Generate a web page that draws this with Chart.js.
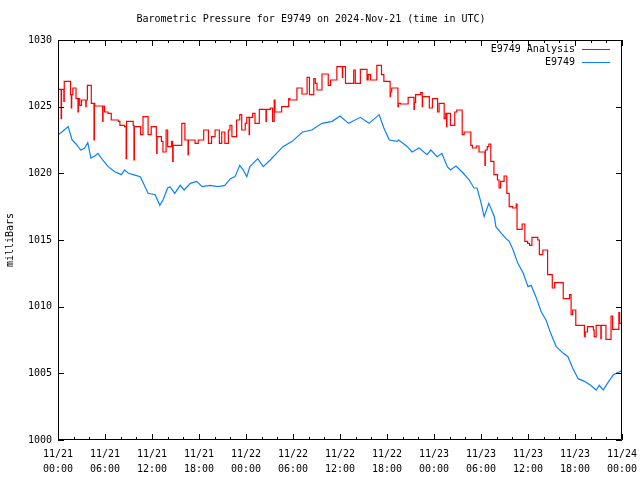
<!DOCTYPE html>
<html>
<head>
<meta charset="utf-8">
<script src="https://cdn.jsdelivr.net/npm/chart.js@4/dist/chart.umd.min.js"></script>
<style>
  html, body { margin: 0; padding: 0; background: #fff; }
  #wrap { width: 640px; height: 480px; }
</style>
</head>
<body>
<div id="wrap"><canvas id="pressure_graph" width="640" height="480"></canvas></div>
<script>
// hours since 11/21 00:00 UTC
const hourTicks = [0, 6, 12, 18, 24, 30, 36, 42, 48, 54, 60, 66, 72];
const dayLabels = ['11/21', '11/21', '11/21', '11/21', '11/22', '11/22', '11/22', '11/22', '11/23', '11/23', '11/23', '11/23', '11/24'];
const timeLabels = ['00:00', '06:00', '12:00', '18:00', '00:00', '06:00', '12:00', '18:00', '00:00', '06:00', '12:00', '18:00', '00:00'];
const pressureTicks = [1000, 1005, 1010, 1015, 1020, 1025, 1030];

// E9749 Analysis (stepped, with short dips)
const analysisHours = [
  0, 0.4, 0.45, 0.75, 0.8, 1.6, 1.7, 1.75, 1.9, 2.3, 2.55, 2.6, 2.77, 3.0, 3.55, 3.6, 3.75, 4.25, 4.6, 4.65,
  4.7, 5.7, 5.75, 5.95, 6.4, 6.8, 7.7, 7.9, 8.5, 8.7, 8.75, 9.6, 9.7, 9.75, 10.55, 10.85, 11.5, 11.9, 12.55, 12.6,
  12.65, 13.2, 13.4, 13.8, 14.0, 14.5, 14.64, 14.7, 15.8, 16.2, 16.6, 16.65, 17.5, 17.9, 18.6, 19.2, 19.6, 20.05, 20.6, 20.9,
  21.3, 21.75, 21.95, 22.2, 22.8, 23.2, 23.45, 23.9, 24.1, 24.4, 24.45, 24.85, 25.15, 25.7, 26.55, 26.6, 27.1, 27.4, 27.6, 27.7,
  28.55, 29.45, 29.6, 30.5, 31.15, 31.8, 32.1, 32.65, 32.85, 33.07, 33.7, 34.5, 34.8, 35.6, 36.3, 36.35, 36.7, 37.75, 37.95, 38.6,
  39.45, 39.6, 39.9, 40.7, 41.3, 41.6, 42.4, 42.45, 42.6, 43.4, 43.45, 43.75, 44.7, 45.45, 45.5, 45.65, 46.3, 46.5, 46.55, 47.4,
  47.8, 48.45, 48.65, 49.3, 49.5, 49.6, 49.65, 50.1, 50.65, 50.9, 51.6, 51.85, 52.7, 52.9, 53.4, 53.75, 54.5, 54.55, 54.8, 55.0,
  55.25, 55.65, 56.1, 56.3, 56.5, 56.95, 57.3, 57.6, 58.05, 58.5, 58.6, 59.25, 59.6, 59.95, 60.2, 60.5, 61.25, 61.45, 61.9, 62.5,
  63.1, 63.4, 64.5, 65.3, 65.5, 65.7, 66.1, 67.2, 67.3, 67.6, 68.35, 68.45, 68.7, 69.3, 69.35, 69.95, 70.6, 70.8, 71.6, 71.7,
  72
];
const analysisValues = [
  1026.3, 1024.1, 1026.3, 1025.4, 1026.9, 1025.9, 1024.9, 1025.9, 1026.4, 1025.6, 1024.6, 1025.6, 1025.1, 1025.5, 1025.0, 1025.5, 1026.6, 1025.25, 1022.5, 1025.25,
  1025.05, 1023.9, 1025.05, 1024.6, 1024.5, 1024.0, 1023.9, 1023.6, 1023.5, 1021.1, 1023.9, 1023.6, 1021.0, 1023.5, 1022.9, 1024.25, 1022.9, 1023.5, 1022.75, 1021.5,
  1022.75, 1022.4, 1021.6, 1023.25, 1022.0, 1022.4, 1020.9, 1022.1, 1023.75, 1022.5, 1021.4, 1022.5, 1022.25, 1022.5, 1023.25, 1022.25, 1022.75, 1023.25, 1022.25, 1023.1,
  1022.25, 1023.25, 1023.6, 1022.75, 1024.0, 1024.4, 1023.25, 1023.75, 1024.2, 1022.9, 1024.2, 1024.5, 1023.75, 1024.8, 1023.9, 1024.8, 1024.9, 1023.9, 1025.5, 1024.6,
  1025.0, 1025.6, 1025.5, 1026.4, 1025.95, 1027.2, 1025.9, 1027.1, 1026.75, 1026.25, 1027.45, 1026.6, 1027.0, 1028.0, 1027.2, 1028.0, 1026.75, 1027.75, 1026.75, 1027.8,
  1027.0, 1027.4, 1027.0, 1028.1, 1027.4, 1026.9, 1025.75, 1026.1, 1026.4, 1025.0, 1025.25, 1025.2, 1025.7, 1024.8, 1025.3, 1025.9, 1026.05, 1025.0, 1025.75, 1024.9,
  1025.6, 1024.6, 1025.25, 1024.1, 1024.5, 1023.5, 1024.5, 1023.6, 1024.6, 1024.75, 1022.9, 1023.1, 1022.1, 1021.9, 1022.05, 1021.6, 1020.6, 1021.75, 1022.0, 1022.2,
  1020.9, 1019.9, 1019.5, 1018.9, 1019.4, 1019.8, 1018.5, 1017.5, 1017.4, 1017.7, 1015.8, 1016.2, 1014.9, 1014.75, 1014.6, 1015.2, 1015.0, 1013.9, 1014.25, 1012.4,
  1011.4, 1011.8, 1010.6, 1010.9, 1009.4, 1009.75, 1008.6, 1007.75, 1008.1, 1008.5, 1008.25, 1007.75, 1008.6, 1007.6, 1008.6, 1007.55, 1009.3, 1008.3, 1009.55, 1008.75,
  1008.75
];

// E9749 observed
const stationHours = [
  0, 0.5, 1.3, 1.8, 2.3, 2.9, 3.4, 3.8, 4.2, 4.7, 5.1, 5.7, 6.4, 7.3, 8.1, 8.5, 9.0, 9.6, 10.5, 10.9,
  11.5, 12.4, 13.0, 13.4, 14.0, 14.3, 14.9, 15.6, 16.1, 16.9, 17.7, 18.4, 19.4, 20.4, 21.3, 22.0, 22.6, 23.2, 23.6, 24.1,
  24.5, 25.5, 26.2, 27.1, 27.9, 28.7, 29.9, 31.2, 32.4, 33.7, 35.0, 36.0, 37.1, 38.6, 39.7, 41.0, 41.6, 42.3, 43.3, 43.5,
  44.6, 45.2, 46.1, 47.1, 47.6, 48.4, 49.0, 49.7, 50.1, 50.8, 51.6, 52.5, 53.1, 53.5, 54.0, 54.4, 55.0, 55.7, 55.9, 56.6,
  57.2, 57.6, 58.1, 58.7, 59.4, 60.0, 60.4, 61.0, 61.7, 62.3, 62.9, 63.6, 64.5, 65.1, 65.7, 66.4, 67.2, 68.0, 68.7, 69.1,
  69.6, 70.2, 70.9, 71.6, 72.0
];
const stationValues = [
  1022.9, 1023.1, 1023.5, 1022.5, 1022.2, 1021.75, 1021.9, 1022.3, 1021.15, 1021.3, 1021.5, 1021.0, 1020.5, 1020.1, 1019.9, 1020.25, 1020.0, 1019.9, 1019.75, 1019.25,
  1018.5, 1018.4, 1017.6, 1018.0, 1018.9, 1019.0, 1018.5, 1019.1, 1018.75, 1019.25, 1019.4, 1019.0, 1019.1, 1019.0, 1019.1, 1019.6, 1019.75, 1020.6, 1020.3, 1019.75,
  1020.5, 1021.1, 1020.5, 1021.0, 1021.5, 1022.0, 1022.4, 1023.1, 1023.25, 1023.75, 1023.9, 1024.3, 1023.75, 1024.2, 1023.75, 1024.4, 1023.4, 1022.5, 1022.4, 1022.5,
  1022.0, 1021.6, 1021.9, 1021.4, 1021.75, 1021.25, 1021.5, 1020.5, 1020.25, 1020.55, 1020.1, 1019.5, 1018.9, 1018.9, 1017.8, 1016.75, 1017.75, 1016.75, 1016.0, 1015.5,
  1015.1, 1014.9, 1014.25, 1013.25, 1012.5, 1011.5, 1011.6, 1010.75, 1009.6, 1009.0, 1008.0, 1007.0, 1006.5, 1006.25, 1005.4, 1004.6, 1004.4, 1004.1, 1003.75, 1004.1,
  1003.75, 1004.3, 1004.9, 1005.1, 1005.2
];

const FONT = "'DejaVu Sans Mono', 'Liberation Mono', monospace";

// gnuplot-like frame, inward ticks and right-hand legend
const framePlugin = {
    id: 'frame',
    afterDatasetsDraw(chart) {
        const ctx = chart.ctx;
        const a = chart.chartArea;
        const xs = chart.scales.x;
        const ys = chart.scales.y;
        ctx.save();
        ctx.strokeStyle = '#000';
        ctx.lineWidth = 1;
        ctx.beginPath();
        ctx.rect(Math.round(a.left) + 0.5, Math.round(a.top) + 0.5,
                 Math.round(a.right - a.left) - 1, Math.round(a.bottom - a.top) - 1);
        ctx.stroke();

        ctx.beginPath();
        for (let h = 0; h <= 72; h += 2) {
            const x = Math.round(xs.getPixelForValue(h)) + 0.5;
            const len = (h % 6 === 0) ? 6 : 3;
            ctx.moveTo(x, a.bottom); ctx.lineTo(x, a.bottom - len);
            ctx.moveTo(x, a.top); ctx.lineTo(x, a.top + len);
        }
        pressureTicks.forEach(function(p) {
            const y = Math.round(ys.getPixelForValue(p)) + 0.5;
            ctx.moveTo(a.left, y); ctx.lineTo(a.left + 6, y);
            ctx.moveTo(a.right, y); ctx.lineTo(a.right - 6, y);
        });
        ctx.stroke();

        // legend
        ctx.font = '10px ' + FONT;
        ctx.textAlign = 'right';
        ctx.textBaseline = 'middle';
        chart.data.datasets.forEach(function(ds, i) {
            const y = 49 + i * 13;
            ctx.fillStyle = '#000';
            ctx.fillText(ds.label, 575, y);
            ctx.strokeStyle = ds.borderColor;
            ctx.beginPath();
            ctx.moveTo(582, y + 0.5);
            ctx.lineTo(610, y + 0.5);
            ctx.stroke();
        });
        ctx.restore();
    }
};

window.onload = function() {
    const ctx = document.getElementById('pressure_graph').getContext('2d');

    new Chart(ctx, {
        type: 'line',
        data: {
            datasets: [{
                label: 'E9749 Analysis',
                data: analysisHours.map((h, i) => ({ x: h, y: analysisValues[i] })),
                borderColor: '#ff0000',
                borderWidth: 1.2,
                stepped: true,
                pointRadius: 0,
                fill: false
            }, {
                label: 'E9749',
                data: stationHours.map((h, i) => ({ x: h, y: stationValues[i] })),
                borderColor: '#0a80ff',
                borderWidth: 1.2,
                pointRadius: 0,
                tension: 0,
                fill: false
            }]
        },
        options: {
            responsive: false,
            animation: false,
            layout: { padding: { left: 0, right: 18, top: 0, bottom: 0 } },
            plugins: {
                legend: { display: false },
                tooltip: { enabled: false },
                title: {
                    display: true,
                    text: 'Barometric Pressure for E9749 on 2024-Nov-21 (time in UTC)',
                    color: '#000',
                    font: { family: FONT, size: 10, weight: 'normal', lineHeight: 1.2 },
                    padding: { top: 13, bottom: 15 }
                }
            },
            scales: {
                x: {
                    type: 'linear',
                    min: 0,
                    max: 72,
                    afterBuildTicks: function(scale) {
                        scale.ticks = hourTicks.map(v => ({ value: v }));
                    },
                    afterFit: function(scale) {
                        scale.height = 40;
                        scale.paddingLeft = 0;
                        scale.paddingRight = 0;
                    },
                    grid: { display: false, drawTicks: false },
                    border: { display: false },
                    ticks: {
                        color: '#000',
                        maxRotation: 0,
                        autoSkip: false,
                        padding: 7,
                        font: { family: FONT, size: 10, lineHeight: 1.5 },
                        callback: function(value) {
                            const i = hourTicks.indexOf(value);
                            return i < 0 ? '' : [dayLabels[i], timeLabels[i]];
                        }
                    }
                },
                y: {
                    min: 1000,
                    max: 1030,
                    afterBuildTicks: function(scale) {
                        scale.ticks = pressureTicks.map(v => ({ value: v }));
                    },
                    afterFit: function(scale) { scale.width = 58; },
                    grid: { display: false, drawTicks: false },
                    border: { display: false },
                    title: {
                        display: true,
                        text: 'milliBars',
                        color: '#000',
                        font: { family: FONT, size: 10 },
                        padding: { top: 4, bottom: 0 }
                    },
                    ticks: {
                        color: '#000',
                        padding: 6,
                        font: { family: FONT, size: 10 },
                        callback: function(value) { return String(value); }
                    }
                }
            }
        },
        plugins: [framePlugin]
    });
};
</script>
</body>
</html>
